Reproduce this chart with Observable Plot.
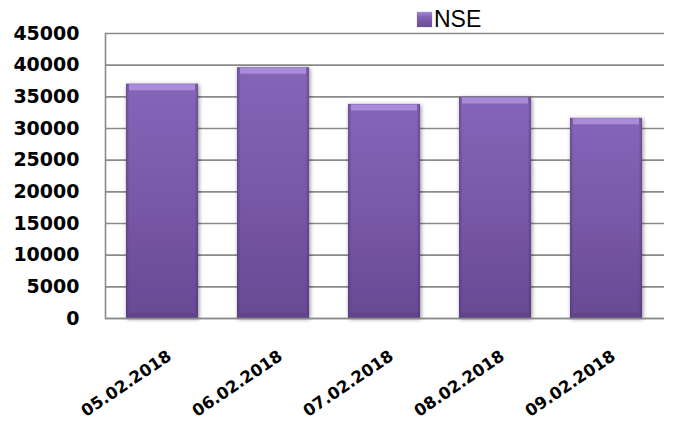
<!DOCTYPE html>
<html><head><meta charset="utf-8">
<script src="https://cdn.jsdelivr.net/npm/d3@7"></script>
<script src="https://cdn.jsdelivr.net/npm/@observablehq/plot@0.6"></script>
<style>
body{margin:0;background:#fff;}
#wrap{position:relative;width:673px;height:422px;overflow:hidden;}
#wrap svg{position:absolute;left:0;top:0;}
#sw{position:absolute;left:417px;top:12px;width:15px;height:15px;background:linear-gradient(#a98bd9 0%,#8464b6 30%,#6a4b95 100%);box-shadow:0 0 1px rgba(0,0,0,0.4);}
#lt{position:absolute;left:434px;top:6px;font:23px "Liberation Sans",Arial,sans-serif;line-height:26px;color:#000;}
</style></head><body>
<div id="wrap"></div>
<script>
const dates = ["05.02.2018", "06.02.2018", "07.02.2018", "08.02.2018", "09.02.2018"];
const nse = [37000, 39600, 33800, 34900, 31600];
const yTicks = [0, 5000, 10000, 15000, 20000, 25000, 30000, 35000, 40000, 45000];
const seriesName = "NSE";

const data = dates.map((d, i) => ({date: d, value: nse[i]}));

const chart = Plot.plot({
  width: 673,
  height: 422,
  marginLeft: 105,
  marginRight: 9,
  marginTop: 33,
  marginBottom: 104,
  style: {background: "#fff", fontFamily: "DejaVu Sans", color: "#000"},
  x: {domain: dates, paddingInner: 0.35, paddingOuter: 0.175, axis: null},
  y: {domain: [0, 45000], axis: null, label: null},
  marks: [
    Plot.ruleY(yTicks, {stroke: "#8a8a8a", strokeWidth: 1.6}),
    Plot.frame({anchor: "left", stroke: "#8a8a8a", strokeWidth: 1.6}),
    Plot.barY(data, {x: "date", y: "value", fill: "url(#barGrad)"}),
    Plot.barY(data, {x: "date", y: "value", fill: "url(#sideGrad)"}),
    Plot.tickY(data, {x: "date", y: "value", stroke: "#a98bd9", strokeWidth: 6, dy: 3, insetLeft: 3, insetRight: 3}),
    Plot.tickY(data, {x: "date", y: () => 0, stroke: "#5b3f82", strokeWidth: 5, dy: -3, insetLeft: 3, insetRight: 3, strokeOpacity: 0.6}),
    Plot.ruleY([0], {stroke: "#8a8a8a", strokeWidth: 1.6}),
    Plot.axisY({ticks: yTicks, tickSize: 0, tickPadding: 26, fontSize: 19, fontWeight: "bold", tickFormat: d => String(d), fill: "#000", label: null}),
    Plot.text(dates, {x: d => d, frameAnchor: "bottom", dx: 7, dy: 36, rotate: -34, textAnchor: "end", lineAnchor: "middle", fontSize: 16.5, fontWeight: "bold", fill: "#000"})
  ]
});

const svg = d3.select(chart);
svg.insert("defs", ":first-child").html(`
  <linearGradient id="barGrad" x1="0" y1="0" x2="0" y2="1">
    <stop offset="0" stop-color="#8465b8"/>
    <stop offset="0.5" stop-color="#7858a8"/>
    <stop offset="1" stop-color="#684993"/>
  </linearGradient>
  <linearGradient id="sideGrad" x1="0" y1="0" x2="1" y2="0">
    <stop offset="0" stop-color="#3b2060" stop-opacity="0.35"/>
    <stop offset="0.05" stop-color="#3b2060" stop-opacity="0"/>
    <stop offset="0.95" stop-color="#3b2060" stop-opacity="0"/>
    <stop offset="1" stop-color="#3b2060" stop-opacity="0.35"/>
  </linearGradient>`);
svg.selectAll("g[aria-label=bar]").filter((d, i) => i === 0)
  .style("filter", "drop-shadow(1px 1px 2px rgba(0,0,0,0.45))");

const wrap = document.getElementById("wrap");
wrap.appendChild(chart);
const sw = document.createElement("div"); sw.id = "sw"; wrap.appendChild(sw);
const lt = document.createElement("div"); lt.id = "lt"; lt.textContent = seriesName; wrap.appendChild(lt);
</script>
</body></html>
